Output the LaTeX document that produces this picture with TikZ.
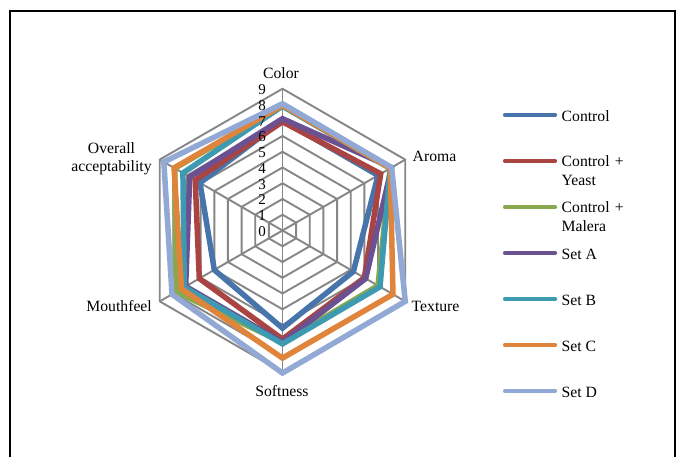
\documentclass[tikz,border=0pt]{standalone}
\usepackage{fontspec}
\setmainfont{Liberation Serif}
\definecolor{gridgray}{HTML}{868686}
\definecolor{cCtrl}{HTML}{4774AB}
\definecolor{cYeast}{HTML}{A94442}
\definecolor{cMalera}{HTML}{89A84D}
\definecolor{cSetA}{HTML}{6B5192}
\definecolor{cSetB}{HTML}{3D9AB0}
\definecolor{cSetC}{HTML}{E0843B}
\definecolor{cSetD}{HTML}{91A9D4}
\newcommand\radarseries[7]{\draw[ser,#1] (90:#2) -- (30:#3) -- (-30:#4) -- (-90:#5) -- (210:#6) -- (150:#7) -- cycle;}
\begin{document}
\begin{tikzpicture}[x=1pt,y=-1pt,
  grid/.style={draw=gridgray, line width=1.9pt},
  ser/.style={line width=5.5pt, line join=miter},
  leg/.style={line width=4.8pt, line cap=round},
  lab/.style={font=\fontsize{15.7}{18.3}\selectfont, inner sep=0pt},
  num/.style={font=\fontsize{15}{17}\selectfont, inner sep=0pt, anchor=east}]
\useasboundingbox (0,0) rectangle (683,457);
\fill[white] (0,0) rectangle (683,457);
\draw[line width=2pt] (10,457) -- (10,11.5) -- (675,11.5) -- (675,457);
\begin{scope}[shift={(282.5,230.5)}, x=15.75pt, y=15.75pt]
  \foreach \k in {1,...,9}
    \draw[grid] (90:\k) -- (30:\k) -- (-30:\k) -- (-90:\k) -- (210:\k) -- (150:\k) -- cycle;
  \foreach \a in {90,30,-30,-90,210,150}
    \draw[grid] (0,0) -- (\a:9);
  \radarseries{cCtrl}{7.0}{7.0}{5.2}{6.2}{5.0}{6.05}
  \radarseries{cYeast}{6.9}{7.2}{6.0}{6.9}{6.1}{6.4}
  \radarseries{cMalera}{7.9}{7.9}{7.0}{7.1}{7.8}{7.9}
  \radarseries{cSetA}{7.1}{8.0}{6.1}{7.1}{7.1}{6.8}
  \radarseries{cSetB}{7.9}{7.9}{7.15}{7.2}{7.2}{7.3}
  \radarseries{cSetC}{7.95}{7.9}{8.1}{8.1}{7.4}{7.95}
  \radarseries{cSetD}{8.05}{8.0}{9.0}{9.05}{8.1}{8.7}
\end{scope}
\foreach \k in {0,...,9}
  \node[num] (n\k) at (266, {231.5-15.75*\k}) {\k};
\node[lab, anchor=base] (color) at (281,78.5) {Color};
\node[lab, anchor=base west] (aroma) at (412.5,161.7) {Aroma};
\node[lab, anchor=base west] (texture) at (411.5,311.7) {Texture};
\node[lab, anchor=base] (softness) at (282,396) {Softness};
\node[lab, anchor=base east] (mouthfeel) at (152,311.7) {Mouthfeel};
\node[lab, anchor=base, text width=100pt, align=center] (overall) at (111.5,153.3) {Overall\\acceptability};
% legend
\draw[leg, cCtrl] (505.3,115) -- (554.8,115);
\draw[leg, cYeast] (505.3,161) -- (554.8,161);
\draw[leg, cMalera] (505.3,207) -- (554.8,207);
\draw[leg, cSetA] (505.3,253) -- (554.8,253);
\draw[leg, cSetB] (505.3,299) -- (554.8,299);
\draw[leg, cSetC] (505.3,345) -- (554.8,345);
\draw[leg, cSetD] (505.3,391) -- (554.8,391);
\node[lab, anchor=base west] (l1) at (561.5,121.3) {Control};
\node[lab, anchor=base west, text width=90pt, align=left] (l2) at (561.5,167) {Control +\\Yeast};
\node[lab, anchor=base west, text width=90pt, align=left] (l3) at (561.5,213) {Control +\\Malera};
\node[lab, anchor=base west] (l4) at (561.5,259.3) {Set A};
\node[lab, anchor=base west] (l5) at (561.5,305.3) {Set B};
\node[lab, anchor=base west] (l6) at (561.5,351.3) {Set C};
\node[lab, anchor=base west] (l7) at (561.5,397.3) {Set D};
\end{tikzpicture}
\end{document}
